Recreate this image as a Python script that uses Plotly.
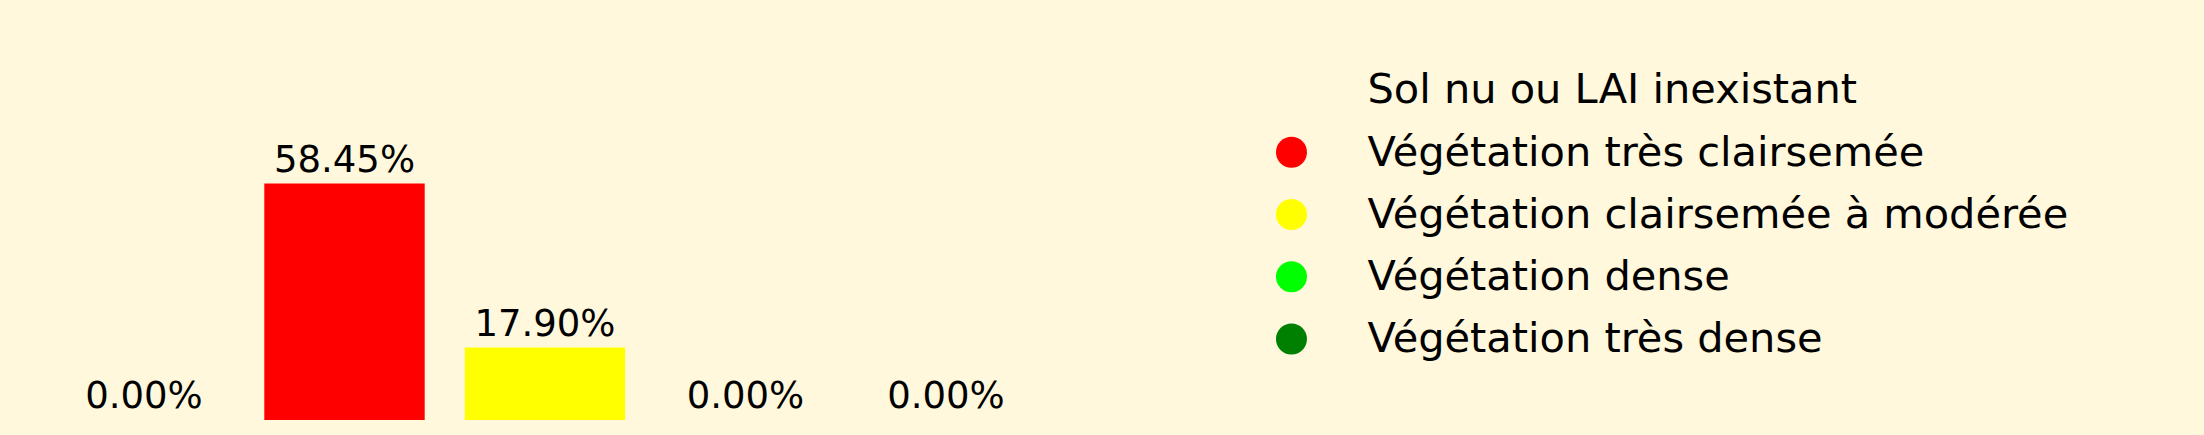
import plotly.graph_objects as go

# classes de LAI
categories = ["Sol nu ou LAI inexistant", "Végétation très clairsemée",
              "Végétation clairsemée à modérée", "Végétation dense",
              "Végétation très dense"]
percentages = [0.00, 58.45, 17.90, 0.00, 0.00]
colors = ["rgba(0,0,0,0)", "#FF0000", "#FFFF00", "#00FF00", "#008000"]
bar_labels = ["%.2f%%" % p for p in percentages]

bg = "#FFF8DC"
font_family = "DejaVu Sans"

fig = go.Figure()

# barres
fig.add_trace(go.Bar(
    x=list(range(len(categories))), y=percentages,
    marker=dict(color=colors, line=dict(width=0)),
    text=bar_labels, textposition="outside", cliponaxis=False,
    textfont=dict(size=37, color="black", family=font_family),
    showlegend=False, hoverinfo="skip",
    xaxis="x", yaxis="y",
))

# legende faite a la main (pastilles + libelles)
rows = list(range(len(categories)))
fig.add_trace(go.Scatter(
    x=[0] * len(rows), y=rows, mode="markers",
    marker=dict(size=31, color=colors, line=dict(width=0)),
    showlegend=False, hoverinfo="skip", cliponaxis=False,
    xaxis="x2", yaxis="y2",
))
fig.add_trace(go.Scatter(
    x=[1] * len(rows), y=rows, mode="text",
    text=categories, textposition="middle right",
    textfont=dict(size=41.5, color="black", family=font_family),
    showlegend=False, hoverinfo="skip", cliponaxis=False,
    xaxis="x2", yaxis="y3",
))

fig.update_layout(
    width=2204, height=435,
    margin=dict(l=0, r=0, t=60, b=15),
    paper_bgcolor=bg, plot_bgcolor=bg,
    font=dict(family=font_family, color="black"),
    bargap=0.2,
    xaxis=dict(domain=[0.01985, 0.4747], range=[-0.5, 4.5], visible=False),
    yaxis=dict(range=[0, 89], visible=False),
    xaxis2=dict(domain=[0.5, 1], range=[-2.493, 12.007], visible=False),
    yaxis2=dict(domain=[0, 1], range=[5.30, -0.48], visible=False, anchor="x2"),
    # libelles un peu plus bas que les pastilles
    yaxis3=dict(domain=[0, 1], range=[5.252, -0.528], visible=False,
                anchor="x2", overlaying="y2"),
)

# pas de marge blanche autour de la figure
fig.write_html("out.html", config={"displayModeBar": False},
               post_script="document.body.style.margin='0';"
                           "document.body.style.background='%s';" % bg)
